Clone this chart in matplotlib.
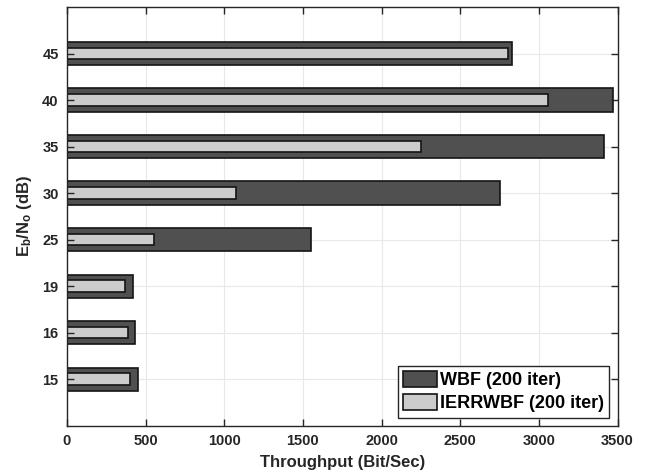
import numpy as np
import matplotlib
matplotlib.use("Agg")
import matplotlib.pyplot as plt

plt.rcParams['font.family'] = ['Liberation Sans', 'DejaVu Sans']
plt.rcParams['font.weight'] = 'bold'
plt.rcParams['mathtext.fontset'] = 'custom'
plt.rcParams['mathtext.rm'] = 'Liberation Sans:bold'
plt.rcParams['mathtext.it'] = 'Liberation Sans:bold'
plt.rcParams['mathtext.bf'] = 'Liberation Sans:bold'
plt.rcParams['mathtext.default'] = 'bf'

# Eb/No levels (dB) and throughput in Bit/Sec
snr_labels = ['15', '16', '19', '25', '30', '35', '40', '45']
wbf = [452, 433, 420, 1550, 2753, 3417, 3470, 2829]
ierrwbf = [399, 388, 367, 556, 1073, 2250, 3058, 2804]

ink = '#262626'
fig = plt.figure(figsize=(6.49, 4.74), dpi=100)
ax = fig.add_axes([0.1032, 0.1019, 0.8483, 0.8833])

pos = np.arange(1, len(snr_labels) + 1)
ax.barh(pos, wbf, height=0.5, color='#505050', edgecolor='#141414',
        linewidth=1.2, label='WBF (200 iter)', zorder=1)
ax.barh(pos, ierrwbf, height=0.25, color='#cccccc', edgecolor='#141414',
        linewidth=1.2, label='IERRWBF (200 iter)', zorder=1.2)

ax.set_xlim(0, 3500)
ax.set_ylim(0, len(snr_labels) + 1)
xt = np.arange(0, 3501, 500)
ax.set_xticks(xt)
ax.set_yticks(pos)
ax.set_yticklabels(snr_labels)

# light grid kept underneath the bars
for x in xt[1:-1]:
    ax.axvline(x, color='#e8e8e8', lw=0.8, zorder=0)
for y in pos:
    ax.axhline(y, color='#e8e8e8', lw=0.8, zorder=0)

ax.tick_params(direction='in', length=5, width=1.0, colors=ink,
               labelsize=10.5, top=True, right=True, pad=6)
for sp in ax.spines.values():
    sp.set_color(ink)
    sp.set_linewidth(1.0)

ax.set_xlabel('Throughput (Bit/Sec)', fontsize=12, fontweight='bold',
              color=ink, labelpad=5)
ax.set_ylabel('E$_b$/N$_o$ (dB)', fontsize=12, fontweight='bold',
              color=ink, labelpad=6)

leg = ax.legend(loc='lower right', fontsize=13, frameon=True, fancybox=False,
                edgecolor=ink, framealpha=1, borderpad=0.3,
                labelspacing=0.25, handlelength=1.9, handleheight=1.0,
                handletextpad=0.15, borderaxespad=0.45)
leg.get_frame().set_linewidth(1.0)
for t in leg.get_texts():
    t.set_color('black')

fig.savefig('out.png', dpi=100)
